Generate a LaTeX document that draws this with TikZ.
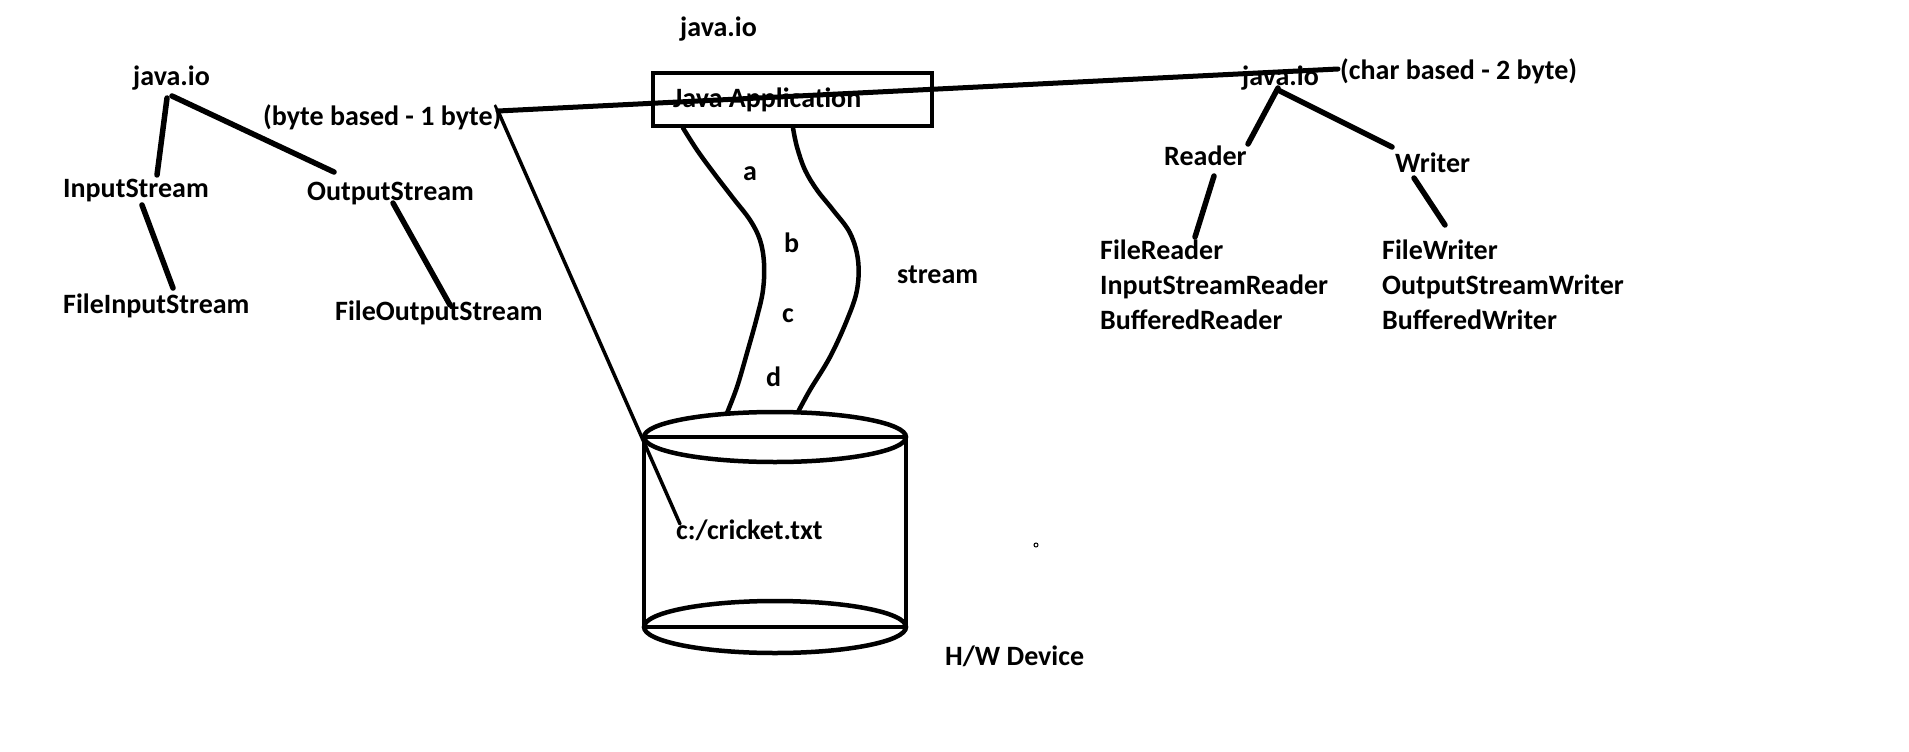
\documentclass[tikz,border=0pt]{standalone}
\usepackage{fontspec}
\setmainfont{Carlito}
\begin{document}
\begin{tikzpicture}[x=1pt,y=-1pt,
  lbl/.style={font=\fontsize{28}{34}\selectfont\bfseries, inner sep=0pt, anchor=base west},
  tree/.style={line width=5.5pt, line cap=round},
  heavy/.style={line width=4.5pt},
  strm/.style={line width=4.5pt, line cap=round},
]
\fill[white] (0,0) rectangle (1909,752);
\useasboundingbox (0,0) rectangle (1909,752);

% ---- left tree ----
\node[lbl] (jl) at (133,85) {java.io};
\node[lbl] (bb) at (263,125) {(byte based - 1 byte)};
\node[lbl] (is) at (63,197) {InputStream};
\node[lbl] (os) at (307,200) {OutputStream};
\node[lbl] (fis) at (63,313) {FileInputStream};
\node[lbl] (fos) at (335,320) {FileOutputStream};

\coordinate (jlA) at (167,98);  \coordinate (isT) at (157,175);
\coordinate (jlB) at (172,96);  \coordinate (osT) at (334,172);
\coordinate (isB) at (142,205); \coordinate (fisT) at (173,288);
\coordinate (osB) at (393,203); \coordinate (fosT) at (450,305);
\draw[tree] (jlA) -- (isT);
\draw[tree] (jlB) -- (osT);
\draw[tree] (isB) -- (fisT);
\draw[tree] (osB) -- (fosT);

% ---- centre ----
\node[lbl] (jtop) at (680,37) {java.io};
\node[draw, heavy, minimum width=279pt, minimum height=53pt, inner sep=0pt] (app) at (792.5,99.5) {};
\node[lbl] (apptxt) at (673,107) {Java Application};

\node[lbl] (la) at (743,180) {a};
\node[lbl] (lb) at (784,252) {b};
\node[lbl] (lc) at (782,322) {c};
\node[lbl] (ld) at (766,386) {d};
\node[lbl] (lstream) at (897,283) {stream};

\draw[strm] plot[smooth, tension=0.6] coordinates {(683,128) (697,150) (713,172) (733,198) (750,220) (760,240) (764,263) (763,290) (757,317) (747,353) (737,387) (727,413)};
\draw[strm] plot[smooth, tension=0.6] coordinates {(793,128) (797,147) (805,170) (817,190) (833,210) (850,233) (858,260) (857,290) (847,320) (830,357) (810,390) (798,412)};

% cylinder
\draw[heavy] (775,437) ellipse [x radius=131pt, y radius=25pt];
\draw[heavy] (644,437) -- (906,437);
\draw[heavy] (775,627) ellipse [x radius=131pt, y radius=26pt];
\draw[heavy] (644,627) -- (906,627);
\draw[heavy] (644,437) -- (644,627);
\draw[heavy] (906,437) -- (906,627);

\node[lbl] (file) at (676,539) {c:/cricket.txt};
\node[lbl] (hw) at (945,665) {H/W Device};
\draw[line width=1pt] (1036,545) circle (2pt);

% ---- right tree ----
\node[lbl] (jr) at (1242,85) {java.io};
\node[lbl] (cb) at (1340,80) {(char based - 2 byte)};
\node[lbl] (rd) at (1164,165) {Reader};
\node[lbl] (wr) at (1395,172) {Writer};
\node[lbl] (fr) at (1100,259) {FileReader};
\node[lbl] (isr) at (1100,294) {InputStreamReader};
\node[lbl] (br) at (1100,329) {BufferedReader};
\node[lbl] (fw) at (1382,259) {FileWriter};
\node[lbl] (osw) at (1382,294) {OutputStreamWriter};
\node[lbl] (bw) at (1382,329) {BufferedWriter};

\coordinate (jrA) at (1278,88);  \coordinate (rdT) at (1248,144);
\coordinate (jrB) at (1278,90);  \coordinate (wrT) at (1392,147);
\coordinate (rdB) at (1214,176); \coordinate (frT) at (1195,237);
\coordinate (wrB) at (1414,178); \coordinate (fwT) at (1445,225);
\draw[tree] (jrA) -- (rdT);
\draw[tree] (jrB) -- (wrT);
\draw[tree] (rdB) -- (frT);
\draw[tree] (wrB) -- (fwT);

% ---- long connectors ----
\coordinate (bbE) at (498,111);
\coordinate (cbS) at (1338,69);
\coordinate (fileS) at (680,524);
\draw[line width=5pt, line cap=round] (bbE) -- (cbS);
\draw[line width=3.5pt, line cap=round] (bbE) -- (fileS);
\end{tikzpicture}
\end{document}
